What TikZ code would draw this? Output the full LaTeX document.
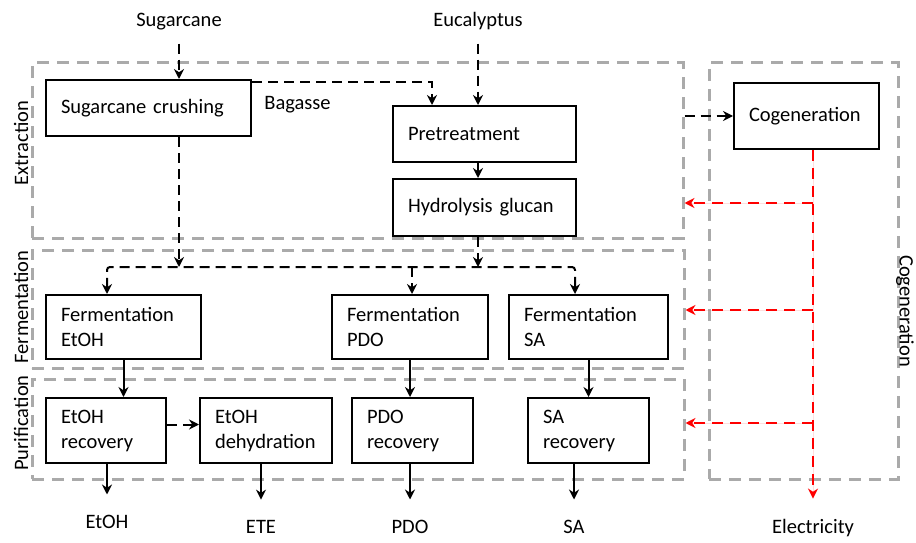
\documentclass[tikz,border=0pt]{standalone}
\usepackage{fontspec}
\setmainfont{Carlito}
\usetikzlibrary{arrows.meta}

\tikzset{
	unit/.style={draw, line width=2pt, align=left, inner xsep=15pt, inner ysep=2pt, text width=#1},
	zone/.style={draw=gray!67, line width=3pt, dash pattern=on 12pt off 8pt, inner sep=0pt},
	tag/.style={inner sep=2pt},
	flow/.style={-{Stealth[length=10pt,width=10pt]}, line width=2pt},
	dflow/.style={flow, dash pattern=on 10pt off 6pt},
	rflow/.style={dflow, draw=red, fill=red, dash pattern=on 11pt off 7pt}
}

\begin{document}
\begin{tikzpicture}[x=1pt, y=-1pt, font=\fontsize{20.5}{25}\selectfont]
				\useasboundingbox (0,0) rectangle (916,543);
				
				% sections
				\node[zone, minimum width=651pt, minimum height=175pt] (ext) at (357.5,150.5) {};
				\node[zone, minimum width=652pt, minimum height=118pt] (fer) at (358,309)     {};
				\node[zone, minimum width=652pt, minimum height=100pt] (pur) at (358,429)     {};
				\node[zone, minimum width=189pt, minimum height=416pt] (cgz) at (803.5,271)   {};
				\node[rotate=90]  (lext) at (21,143)  {Extraction};
				\node[rotate=90]  (lfer) at (21,307)  {Fermentation};
				\node[rotate=90]  (lpur) at (21,423)  {Purification};
				\node[rotate=-90] (lcog) at (905,311) {Cogeneration};
				
				% units
				\node[unit=175pt, minimum height=56pt] (crush) at (148.5,108)  {Sugarcane crushing};
				\node[unit=153pt, minimum height=56pt] (pre)   at (484.5,134)  {Pretreatment};
				\node[unit=153pt, minimum height=57pt] (hyd)   at (484.5,207.5) {Hydrolysis glucan};
				\node[unit=115pt, minimum height=66pt] (cog)   at (806.5,116)  {Cogeneration};
				\node[unit=125pt, minimum height=64pt] (fetoh) at (123.5,327)  {Fermentation\\EtOH};
				\node[unit=126pt, minimum height=64pt] (fpdo)  at (410,327)    {Fermentation\\PDO};
				\node[unit=129pt, minimum height=64pt] (fsa)   at (588.5,327)  {Fermentation\\SA};
				\node[unit=90pt,  minimum height=65pt] (retoh) at (106,430.5)  {EtOH\\recovery};
				\node[unit=102pt, minimum height=65pt] (deh)   at (266,430.5)  {EtOH\\dehydration};
				\node[unit=91pt,  minimum height=65pt] (rpdo)  at (412.5,430.5) {PDO\\recovery};
				\node[unit=91pt,  minimum height=65pt] (rsa)   at (588.5,430.5) {SA\\recovery};
				
				% streams in and out
				\node[tag, anchor=base] (sc)    at (179,27)    {Sugarcane};
				\node[tag, anchor=base] (eu)    at (478,27)    {Eucalyptus};
				\node[tag, anchor=base] (bag)   at (297.5,110) {Bagasse};
				\node[tag, anchor=base] (oetoh) at (107,528)   {EtOH};
				\node[tag, anchor=base] (oete)  at (261,533)   {ETE};
				\node[tag, anchor=base] (opdo)  at (410,533)   {PDO};
				\node[tag, anchor=base] (osa)   at (574,533)   {SA};
				\node[tag, anchor=base] (oel)   at (813,533)   {Electricity};
				
				\coordinate (d1) at (107,267);
				\coordinate (d2) at (412,267);
				\coordinate (d3) at (575,267);
				\coordinate (t1) at (813,203);
				\coordinate (t2) at (813,310);
				\coordinate (t3) at (813,423);
				
				\draw[dflow, shorten <=11pt] (sc.south) -- (crush.north -| sc);
				\draw[dflow, shorten <=11pt] (eu.south) -- (pre.north -| eu);
				\draw[dflow] ([yshift=-3pt]crush.north east) -| ([xshift=-52.5pt]pre.north);
				\draw[flow] (pre.south -| eu) -- (hyd.north -| eu);
				\draw[dflow] (crush.south -| sc) -- (d1 -| sc);
				\draw[dflow] (hyd.south -| eu) -- (d1 -| eu);
				\draw[dflow, {Stealth[length=10pt,width=10pt]}-{Stealth[length=10pt,width=10pt]}, rounded corners=3pt]
					(fetoh.north -| d1) -- (d1) -- (d3) -- (fsa.north -| d3);
				\draw[dflow] (d2) -- (fpdo.north -| d2);
				\draw[dflow] (ext.east |- cog) -- (cog.west);
				
				\foreach \u/\v in {fetoh/retoh, fpdo/rpdo, fsa/rsa}
				{	\draw[flow] (\u.south) -- (\u.south |- \v.north);
				}
				\draw[dflow] ([yshift=6pt]retoh.east) -- ([yshift=6pt]deh.west);
				\foreach \u/\v in {retoh/oetoh, deh/oete, rpdo/opdo, rsa/osa}
				{	\draw[flow, shorten >=18pt] (\u.south -| \v) -- (\v.north);
				}
				
				% electricity
				\draw[rflow, shorten >=18pt] (cog.south -| oel) -- (oel.north);
				\foreach \t/\z in {t1/ext, t2/fer, t3/pur}
				{	\draw[rflow] (\t) -- (\t -| \z.east);
				}
\end{tikzpicture}
\end{document}
